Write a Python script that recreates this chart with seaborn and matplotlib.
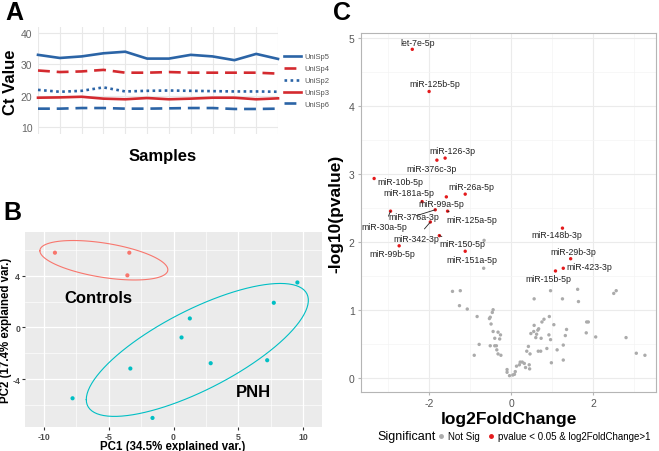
import numpy as np
import pandas as pd
import seaborn as sns
import matplotlib.pyplot as plt
from matplotlib.lines import Line2D

# ---- panel A: spike-in Ct values ----
samples = list(range(1, 13))
unisp5 = [33.0, 32.0, 32.5, 33.5, 34.0, 31.8, 31.8, 33.0, 32.5, 31.3, 33.3, 31.7]
unisp4 = [28.0, 27.5, 27.7, 28.2, 27.3, 27.3, 27.5, 27.3, 27.3, 27.3, 27.3, 27.0]
unisp2 = [21.8, 21.2, 21.5, 22.6, 21.3, 21.5, 21.6, 21.5, 21.4, 21.3, 21.3, 21.2]
unisp3 = [19.3, 19.4, 19.6, 19.0, 18.8, 19.2, 18.8, 19.0, 19.3, 19.3, 18.8, 19.1]
unisp6 = [15.8, 15.8, 16.0, 16.0, 15.8, 15.8, 15.9, 16.0, 16.0, 15.7, 15.7, 15.8]

# ---- panel B: PCA ----
ctrl_pc1 = [-9.15, -3.41, -3.56]
ctrl_pc2 = [5.78, 5.78, 4.03]
pnh_pc1 = [9.56, 7.74, 1.26, 0.62, 2.87, 7.23, -3.33, -7.79, -1.62]
pnh_pc2 = [3.48, 1.91, 0.70, -0.77, -2.76, -2.53, -3.17, -5.47, -6.99]

# ---- panel C: volcano ----
sig_names = ["let-7e-5p", "miR-125b-5p", "miR-126-3p", "miR-376c-3p", "miR-10b-5p",
             "miR-26a-5p", "miR-99a-5p", "miR-181a-5p", "miR-125a-5p", "miR-376a-3p",
             "miR-30a-5p", "miR-342-3p", "miR-150-5p", "miR-99b-5p", "miR-151a-5p",
             "miR-148b-3p", "miR-29b-3p", "miR-423-3p", "miR-15b-5p"]
sig_lfc = [-2.41, -2.00, -1.61, -1.81, -3.34, -1.12, -1.58, -2.17, -1.55, -1.85,
           -2.94, -1.97, -1.75, -2.73, -1.12, 1.25, 1.45, 1.27, 1.08]
sig_logp = [4.83, 4.21, 3.23, 3.20, 2.93, 2.70, 2.66, 2.59, 2.45, 2.47,
            2.45, 2.29, 2.09, 1.94, 1.86, 2.20, 1.75, 1.61, 1.57]

ns_lfc = [-0.66, -0.67, -1.43, -1.24, -1.26, -1.07, -0.83, -0.44, -0.46, -0.51,
          -0.53, -0.49, -0.44, -0.32, -0.26, -0.40, -0.28, -0.78, -0.51, -0.40,
          -0.36, -0.90, -0.35, -0.32, -0.25, -0.10, -0.10, -0.04, 0.04, 0.08,
          0.10, 0.13, 0.20, 0.22, 0.27, 0.32, 0.35, 0.44, 0.45, 0.38,
          0.42, 0.46, 0.56, 0.55, 0.48, 0.62, 0.67, 0.60, 0.73, 0.66,
          0.56, 0.80, 0.93, 0.72, 0.87, 0.96, 1.04, 0.92, 1.12, 0.98,
          0.96, 1.25, 1.27, 1.32, 1.35, 1.27, 1.62, 1.64, 1.88, 1.84,
          1.83, 2.06, 2.50, 2.56, 2.80, 3.05, 3.26, 0.75, 0.65]
ns_logp = [2.02, 1.61, 1.27, 1.28, 1.06, 1.01, 0.90, 1.00, 0.96, 0.89,
           0.87, 0.79, 0.68, 0.67, 0.63, 0.58, 0.57, 0.49, 0.47, 0.47,
           0.47, 0.33, 0.41, 0.35, 0.33, 0.12, 0.08, 0.03, 0.04, 0.05,
           0.09, 0.17, 0.19, 0.23, 0.23, 0.21, 0.15, 0.19, 0.13, 0.39,
           0.46, 0.35, 0.77, 0.68, 0.65, 0.64, 0.72, 0.59, 0.58, 0.39,
           1.16, 0.86, 0.90, 0.39, 0.43, 0.56, 0.78, 0.63, 0.41, 0.22,
           1.28, 1.16, 0.48, 0.62, 0.71, 0.26, 1.30, 1.12, 0.82, 0.82,
           0.66, 0.60, 1.24, 1.28, 0.59, 0.36, 0.33, 0.82, 0.70]

# label placement (x, y, draw segment?)
label_pos = {
    "let-7e-5p": (-2.27, 4.93, False), "miR-125b-5p": (-1.85, 4.32, False),
    "miR-126-3p": (-1.44, 3.34, False), "miR-376c-3p": (-1.95, 3.08, False),
    "miR-10b-5p": (-2.70, 2.89, False), "miR-26a-5p": (-0.97, 2.81, False),
    "miR-99a-5p": (-1.71, 2.56, False), "miR-181a-5p": (-2.49, 2.73, True),
    "miR-125a-5p": (-0.97, 2.32, True), "miR-376a-3p": (-2.38, 2.37, True),
    "miR-30a-5p": (-3.09, 2.23, True), "miR-342-3p": (-2.31, 2.05, True),
    "miR-150-5p": (-1.18, 1.97, True), "miR-99b-5p": (-2.89, 1.82, False),
    "miR-151a-5p": (-0.96, 1.74, False), "miR-148b-3p": (1.11, 2.10, False),
    "miR-29b-3p": (1.52, 1.86, False), "miR-423-3p": (1.91, 1.63, False),
    "miR-15b-5p": (0.91, 1.46, False),
}

plt.rcParams['font.family'] = ['Liberation Sans', 'DejaVu Sans']
plt.rcParams['axes.unicode_minus'] = False
W, H = 659, 452
fig = plt.figure(figsize=(W / 100, H / 100), dpi=100)


def box(x0, y0, x1, y1):
    return [x0 / W, 1 - y1 / H, (x1 - x0) / W, (y1 - y0) / H]


blue = '#2b64a6'
red = '#d42a2f'

# ---------------- A ----------------
axA = fig.add_axes(box(38, 28, 278, 135))
series = [("UniSp5", unisp5, blue, '-'),
          ("UniSp4", unisp4, red, (0, (4.5, 2.6))),
          ("UniSp2", unisp2, blue, (0, (1.0, 1.3))),
          ("UniSp3", unisp3, red, '-'),
          ("UniSp6", unisp6, blue, (0, (4.5, 2.6)))]
for name, vals, col, ls in series:
    sns.lineplot(x=samples, y=vals, ax=axA, color=col, linestyle=ls, lw=1.9,
                 label=name, clip_on=False)
axA.set_xlim(1, 12)
axA.set_ylim(7.7, 41.9)
axA.set_yticks([10, 20, 30, 40])
axA.set_xticks(samples)
axA.set_xticklabels([])
axA.tick_params(length=0, labelsize=7.5, labelcolor='#666666', pad=4)
axA.grid(True, color='#e8e8e8', lw=0.8)
axA.set_axisbelow(True)
for s in axA.spines.values():
    s.set_visible(False)
axA.set_xlabel("")
axA.set_ylabel("")
axA.legend(loc='upper left', bbox_to_anchor=(281 / W, 1 - 51 / H),
           bbox_transform=fig.transFigure, frameon=False, fontsize=5.5,
           labelcolor='#555555', handlelength=2.2, handletextpad=0.4,
           labelspacing=0.6, borderaxespad=0)
fig.text(163 / W, 1 - 157 / H, "Samples", ha='center', va='center',
         fontsize=12, fontweight='bold')
fig.text(11 / W, 1 - 82 / H, "Ct Value", ha='center', va='center',
         fontsize=12, fontweight='bold', rotation=90)

# ---------------- B ----------------
axB = fig.add_axes(box(25, 233, 322, 428))
axB.set_facecolor('#ebebeb')
pca = pd.DataFrame({
    'PC1': ctrl_pc1 + pnh_pc1,
    'PC2': ctrl_pc2 + pnh_pc2,
    'group': ['Controls'] * len(ctrl_pc1) + ['PNH'] * len(pnh_pc1),
})
pal = {'Controls': '#F8766D', 'PNH': '#00BFC4'}
sns.scatterplot(data=pca, x='PC1', y='PC2', hue='group', palette=pal, s=9,
                edgecolor='none', ax=axB, legend=False, zorder=3)
# 68% normal data ellipses (as ggbiplot)
theta = np.linspace(-np.pi, np.pi, 100)
circle = np.column_stack([np.cos(theta), np.sin(theta)])
ed = np.sqrt(-2 * np.log(1 - 0.68))
for g, sub in pca.groupby('group'):
    pts = sub[['PC1', 'PC2']].to_numpy()
    L = np.linalg.cholesky(np.cov(pts.T))
    ell = circle @ L.T * ed + pts.mean(axis=0)
    axB.plot(ell[:, 0], ell[:, 1], color=pal[g], lw=0.8, zorder=2)
axB.set_xlim(-11.46, 11.46)
axB.set_ylim(-7.69, 7.38)
axB.set_xticks([-10, -5, 0, 5, 10])
axB.set_yticks([-4, 0, 4])
axB.set_xticks([-7.5, -2.5, 2.5, 7.5], minor=True)
axB.set_yticks([-6, -2, 2, 6], minor=True)
axB.grid(True, which='major', color='white', lw=0.9)
axB.grid(True, which='minor', color='white', lw=0.45)
axB.set_axisbelow(True)
for s in axB.spines.values():
    s.set_visible(False)
axB.tick_params(which='major', length=2, color='#333333', labelsize=6.3,
                labelcolor='#4d4d4d', pad=1.5)
axB.tick_params(which='minor', length=0)
for lab in axB.get_xticklabels() + axB.get_yticklabels():
    lab.set_fontweight('bold')
axB.set_xlabel("")
axB.set_ylabel("")
fig.text(173 / W, 1 - 447 / H, "PC1 (34.5% explained var.)", ha='center',
         va='center', fontsize=8.3, fontweight='bold')
fig.text(6 / W, 1 - 330 / H, "PC2 (17.4% explained var.)", ha='center',
         va='center', fontsize=8.3, fontweight='bold', rotation=90)
axB.text(-5.8, 2.32, "Controls", ha='center', va='center', fontsize=12, fontweight='bold')
axB.text(6.2, -4.98, "PNH", ha='center', va='center', fontsize=12, fontweight='bold')

# ---------------- C ----------------
axC = fig.add_axes(box(361, 34, 656, 393))
sns.scatterplot(x=ns_lfc, y=ns_logp, color='#ababab', s=6, edgecolor='none',
                ax=axC, zorder=3)
sns.scatterplot(x=sig_lfc, y=sig_logp, color='#e41a1c', s=6, edgecolor='none',
                ax=axC, zorder=3)
for name, x, y in zip(sig_names, sig_lfc, sig_logp):
    lx, ly, seg = label_pos[name]
    if seg:
        axC.annotate(name, xy=(x, y), xytext=(lx, ly), ha='center', va='center',
                     fontsize=6.3, color='#222222',
                     arrowprops=dict(arrowstyle='-', lw=0.6, color='#222222',
                                     shrinkA=2, shrinkB=0))
    else:
        axC.text(lx, ly, name, ha='center', va='center', fontsize=6.3, color='#222222')
axC.set_xlim(-3.66, 3.53)
axC.set_ylim(-0.21, 5.07)
axC.set_xticks([-2, 0, 2])
axC.set_yticks([0, 1, 2, 3, 4, 5])
axC.set_xticks([-3, -1, 1, 3], minor=True)
axC.set_yticks([0.5, 1.5, 2.5, 3.5, 4.5], minor=True)
axC.grid(True, which='major', color='#ebebeb', lw=0.8)
axC.grid(True, which='minor', color='#f4f4f4', lw=0.5)
axC.set_axisbelow(True)
for s in axC.spines.values():
    s.set_color('#b5b5b5')
    s.set_linewidth(0.8)
axC.tick_params(which='major', length=2.5, color='#b5b5b5', labelsize=7.5,
                labelcolor='#555555', pad=2)
axC.tick_params(which='minor', length=0)
axC.set_xlabel("log2FoldChange", fontsize=12.5, fontweight='bold', labelpad=2)
axC.set_ylabel("-log10(pvalue)", fontsize=12.5, fontweight='bold', labelpad=4)

handles = [Line2D([], [], marker='o', ls='', color='#ababab', markersize=2.5),
           Line2D([], [], marker='o', ls='', color='#e41a1c', markersize=2.5)]
fig.text(407 / W, 1 - 437 / H, "Significant", ha='center', va='center', fontsize=9)
fig.legend(handles, ["Not Sig", "pvalue < 0.05 & log2FoldChange>1"],
           loc='center left', bbox_to_anchor=(437 / W, 1 - 437 / H), ncol=2,
           frameon=False, fontsize=7, handlelength=0.8, handletextpad=0.3,
           columnspacing=0.8, borderaxespad=0, borderpad=0)

# panel letters
fig.text(5 / W, 1 - 13 / H, "A", fontsize=18, fontweight='bold', va='center')
fig.text(3 / W, 1 - 213 / H, "B", fontsize=18, fontweight='bold', va='center')
fig.text(333 / W, 1 - 13 / H, "C", fontsize=18, fontweight='bold', va='center')

fig.savefig("out.png", dpi=100)
